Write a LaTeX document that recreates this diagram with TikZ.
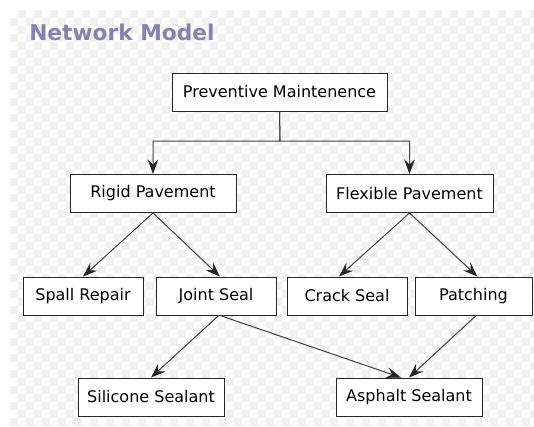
\documentclass[tikz,border=0pt]{standalone}
\usepackage{fontspec}
\setmainfont{DejaVu Sans}
\usetikzlibrary{arrows.meta}
\definecolor{titlecol}{RGB}{133,130,175}
\definecolor{checkgray}{RGB}{240,240,240}
\tikzset{
    box/.style={draw=black!85,fill=white,line width=0.7pt,minimum height=28.5pt,inner sep=0pt,font=\fontsize{12}{14}\selectfont},
    arr/.style={draw=black!75,line width=0.75pt,-{Stealth[length=11pt,width=8pt,inset=4pt,black!85]}}
}
\begin{document}
\begin{tikzpicture}[x=0.75pt,y=-0.75pt]
    \useasboundingbox (0,0) rectangle (534,426);
    \begin{scope}
    \clip (10,10) rectangle (534,426);
    \foreach \i in {0,...,65} {
        \foreach \j in {0,...,52} {
            \pgfmathtruncatemacro\odd{mod(\i+\j,2)}
            \ifnum\odd=1 \fill[checkgray] (10+8*\i,10+8*\j) rectangle ++(8,8); \fi
        }
    }
    \end{scope}
    \node[anchor=base west,inner sep=0pt,text=titlecol,font=\fontsize{16.3}{18}\selectfont\bfseries] (title) at (29,40) {Network Model};
    \node[box,minimum width=161.25pt] (prev) at (279.5,92) {Preventive Maintenence};
    \node[box,minimum width=124.5pt] (rigid) at (153,193.5) {Rigid Pavement};
    \node[box,minimum width=125.25pt] (flex) at (409.5,193.5) {Flexible Pavement};
    \node[box,minimum width=90pt] (spall) at (83,296) {Spall Repair};
    \node[box,minimum width=90pt] (joint) at (216,296) {Joint Seal};
    \node[box,minimum width=90pt] (crack) at (347,296) {Crack Seal};
    \node[box,minimum width=87.75pt] (patch) at (473.5,296) {Patching};
    \node[box,minimum width=109.5pt] (sili) at (151,397) {Silicone Sealant};
    \node[box,minimum width=109.5pt] (asph) at (409,397) {Asphalt Sealant};
    \coordinate (split) at (280,141);
    \draw[arr] (prev.south) -- (split) -| (rigid.north);
    \draw[arr] (prev.south) -- (split) -| (flex.north);
    \draw[arr] (rigid.south) -- (spall.north);
    \draw[arr] (rigid.south) -- ([xshift=3pt]joint.north);
    \draw[arr] (flex.south) -- ([xshift=-6pt]crack.north);
    \draw[arr] (flex.south) -- ([xshift=3pt]patch.north);
    \draw[arr] ([xshift=2pt]joint.south) -- (sili.north);
    \draw[arr] ([xshift=3pt]joint.south) -- ([xshift=-6pt]asph.north);
    \draw[arr] ([xshift=2pt]patch.south) -- (asph.north);
\end{tikzpicture}
\end{document}
